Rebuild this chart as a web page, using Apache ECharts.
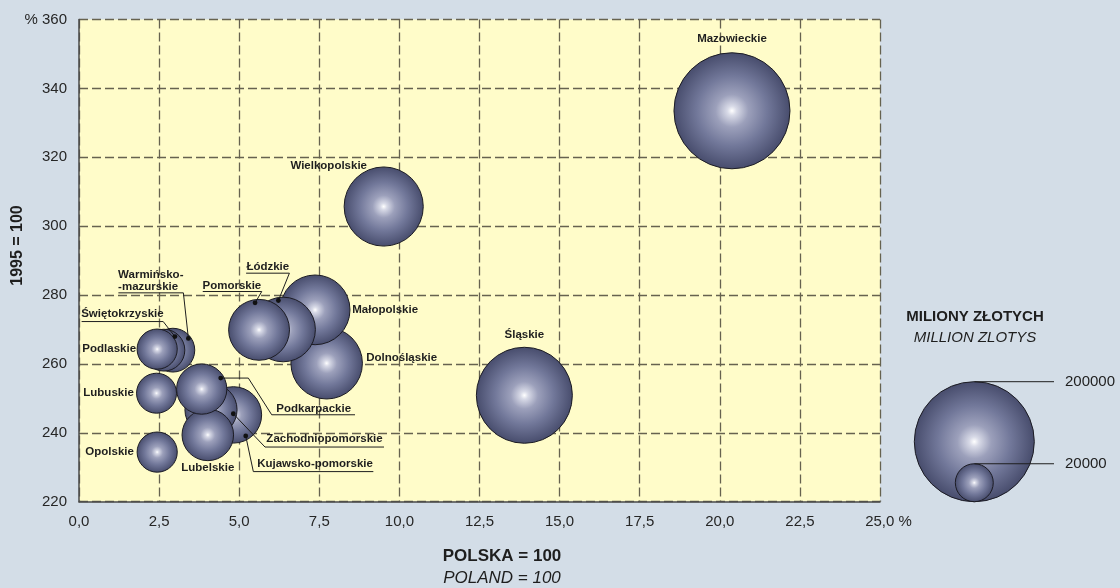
<!DOCTYPE html>
<html><head><meta charset="utf-8">
<script src="https://cdn.jsdelivr.net/npm/echarts@6/dist/echarts.min.js"></script>
<style>html,body{margin:0;padding:0;background:#d3dde7;}#c{width:1120px;height:588px;}</style>
</head><body><div id="c"></div>
<script>
// ---- data ----
const regions = ['Mazowieckie','Śląskie','Wielkopolskie','Dolnośląskie','Małopolskie','Łódzkie','Pomorskie',
  'Kujawsko-pomorskie','Zachodniopomorskie','Lubelskie','Podkarpackie','Warmińsko-mazurskie','Świętokrzyskie',
  'Podlaskie','Lubuskie','Opolskie'];
const sharePoland = [20.38, 13.9, 9.51, 7.73, 7.37, 6.37, 5.62, 4.82, 4.12, 4.02, 3.83, 2.93, 2.65, 2.44, 2.42, 2.44];
const index1995 = [333.5, 250.9, 305.7, 260.2, 275.7, 270.0, 269.9, 245.2, 246.7, 239.4, 252.7, 264.0, 264.0, 264.3, 251.5, 234.4];
const gdpMlnZl = [187000, 128000, 87000, 71000, 67500, 58000, 51500, 44200, 37800, 36900, 35100, 26600, 24300, 22400, 22200, 22400];
const legendValues = [200000, 20000];
const xTicks = {min: 0, max: 25, step: 2.5};
const yTicks = {min: 220, max: 360, step: 20};

// ---- style / layout ----
const FONT = "'Liberation Sans', Arial, sans-serif";
const sizeOf = v => 120 * Math.sqrt(v / 200000);   // diameter in px, area ~ value
const grad = () => new echarts.graphic.RadialGradient(0.5, 0.5, 0.5, [
  {offset: 0, color: '#ffffff'}, {offset: 0.08, color: '#d8dae7'},
  {offset: 0.28, color: '#9ca0bb'}, {offset: 0.6, color: '#72789a'}, {offset: 1, color: '#474c6c'}]);

// label placement relative to bubble centre (px); pts = leader line starting at the dot
const labelLayout = {
  'Mazowieckie': {t: [0, -72]},
  'Śląskie': {t: [0, -60]},
  'Wielkopolskie': {t: [-55, -41]},
  'Dolnośląskie': {t: [75, -5.6]},
  'Małopolskie': {t: [70, 0]},
  'Podlaskie': {t: [-48, 0]},
  'Lubuskie': {t: [-48, 0]},
  'Opolskie': {t: [-47.6, -0.6]},
  'Lubelskie': {t: [0, 33]},
  'Pomorskie': {t: [-27.2, -44.5], pts: [[-4, -27], [2.7, -38.3], [-56.3, -38.3]]},
  'Łódzkie': {t: [-15.3, -62.3], pts: [[-4.7, -29], [6.3, -56.3], [-37, -56.3]]},
  'Świętokrzyskie': {t: [-41.5, -36.3], pts: [[11, -13.6], [-0.7, -28.6], [-82.3, -28.6]]},
  'Warmińsko-mazurskie': {t: [-54.8, -69], align: 'left', text: 'Warmińsko-\n-mazurskie',
      pts: [[15.5, -11.7], [10.5, -57.3], [-54.5, -57.3]]},
  'Podkarpackie': {t: [112, 19.7], pts: [[19, -11], [46.6, -11], [70, 25.7], [153.3, 25.7]]},
  'Zachodniopomorskie': {t: [113.5, 29.5], pts: [[22.3, 4], [54, 37.3], [173, 37.3]]},
  'Kujawsko-pomorskie': {t: [81.6, 49], pts: [[12.3, 21], [19.9, 56.7], [139.9, 56.7]]}
};

const order = regions.map((n, i) => i).sort((a, b) => gdpMlnZl[b] - gdpMlnZl[a]);
const bubbleData = order.map(i => ({name: regions[i], value: [sharePoland[i], index1995[i], gdpMlnZl[i]]}));
const labelNames = order.map(i => regions[i]);

const fmtX = v => {
  const s = v.toFixed(1).replace('.', ',');
  return v === xTicks.max ? '{p|' + s + ' %}' : s;
};
const fmtY = v => (v === yTicks.max ? '% ' : '') + v;

const chart = echarts.init(document.getElementById('c'));
const legendR = legendValues.map(v => sizeOf(v) / 2);
const legBaseY = 501.7, legCx = 974.3;

chart.setOption({
  backgroundColor: '#d3dde7',
  animation: false,
  grid: {left: 79, right: 240, top: 19.5, bottom: 86.3, show: true, backgroundColor: '#fffcc9', borderWidth: 0},
  xAxis: {
    type: 'value', min: xTicks.min, max: xTicks.max, interval: xTicks.step,
    axisLine: {show: true, onZero: false, lineStyle: {color: '#4a4a4a', width: 1.5}},
    axisTick: {show: false},
    splitLine: {show: true, lineStyle: {color: '#66624f', width: 1.3, type: [9, 4]}},
    axisLabel: {formatter: fmtX, color: '#262626', fontSize: 15, fontFamily: FONT, margin: 13,
      rich: {p: {fontSize: 15, fontFamily: FONT, color: '#262626', padding: [0, 0, 0, 17]}}}
  },
  yAxis: {
    type: 'value', min: yTicks.min, max: yTicks.max, interval: yTicks.step,
    axisLine: {show: true, onZero: false, lineStyle: {color: '#4a4a4a', width: 1.5}},
    axisTick: {show: false},
    splitLine: {show: true, lineStyle: {color: '#66624f', width: 1.3, type: [9, 4]}},
    axisLabel: {formatter: fmtY, color: '#262626', fontSize: 15, fontFamily: FONT, margin: 12}
  },
  series: [
    {
      type: 'scatter', data: bubbleData,
      symbolSize: v => sizeOf(v[2]),
      itemStyle: {color: grad(), borderColor: '#1c1c24', borderWidth: 1, opacity: 1},
      emphasis: {disabled: true}, silent: true, z: 2
    },
    {
      type: 'custom', data: bubbleData.map(d => d.value), silent: true, z: 5, clip: false,
      renderItem: (params, api) => {
        const name = labelNames[params.dataIndex];
        const L = labelLayout[name];
        const c = api.coord([api.value(0), api.value(1)]);
        const children = [];
        if (L.pts) {
          const pts = L.pts.map(p => [c[0] + p[0], c[1] + p[1]]);
          children.push({type: 'polyline', shape: {points: pts}, style: {stroke: '#1e1e1e', lineWidth: 1, fill: null}});
          children.push({type: 'circle', shape: {cx: pts[0][0], cy: pts[0][1], r: 2.4}, style: {fill: '#111'}});
        }
        children.push({type: 'text', x: c[0] + L.t[0], y: c[1] + L.t[1],
          style: {text: L.text || name, fill: '#1e1e1e', font: 'bold 11.5px ' + FONT,
            align: L.align || 'center', verticalAlign: 'middle', lineHeight: 12}});
        return {type: 'group', children};
      }
    }
  ],
  graphic: [
    {type: 'text', x: 17.5, y: 245.5, rotation: Math.PI / 2,
      style: {text: '1995 = 100', font: 'bold 16px ' + FONT, fill: '#1e1e1e', align: 'center', verticalAlign: 'middle'}},
    {type: 'text', x: 502, y: 556,
      style: {text: 'POLSKA = 100', font: 'bold 17px ' + FONT, fill: '#1e1e1e', align: 'center', verticalAlign: 'middle'}},
    {type: 'text', x: 502, y: 578,
      style: {text: 'POLAND = 100', font: 'italic 17px ' + FONT, fill: '#1e1e1e', align: 'center', verticalAlign: 'middle'}},
    {type: 'text', x: 975, y: 317,
      style: {text: 'MILIONY ZŁOTYCH', font: 'bold 15px ' + FONT, fill: '#1e1e1e', align: 'center', verticalAlign: 'middle'}},
    {type: 'text', x: 975, y: 338,
      style: {text: 'MILLION ZLOTYS', font: 'italic 15px ' + FONT, fill: '#1e1e1e', align: 'center', verticalAlign: 'middle'}},
    ...legendValues.map((v, k) => {
      const r = legendR[k], cy = legBaseY - r;
      return {type: 'group', children: [
        {type: 'circle', shape: {cx: legCx, cy: cy, r: r}, style: {fill: grad(), stroke: '#1c1c24', lineWidth: 1}, z: 1},
        {type: 'line', shape: {x1: legCx, y1: cy - r, x2: 1054, y2: cy - r}, style: {stroke: '#1e1e1e', lineWidth: 1}, z: 2},
        {type: 'text', x: 1065, y: cy - r, z: 2,
          style: {text: String(v), font: '15px ' + FONT, fill: '#1e1e1e', align: 'left', verticalAlign: 'middle'}}
      ]};
    })
  ]
});
</script></body></html>
